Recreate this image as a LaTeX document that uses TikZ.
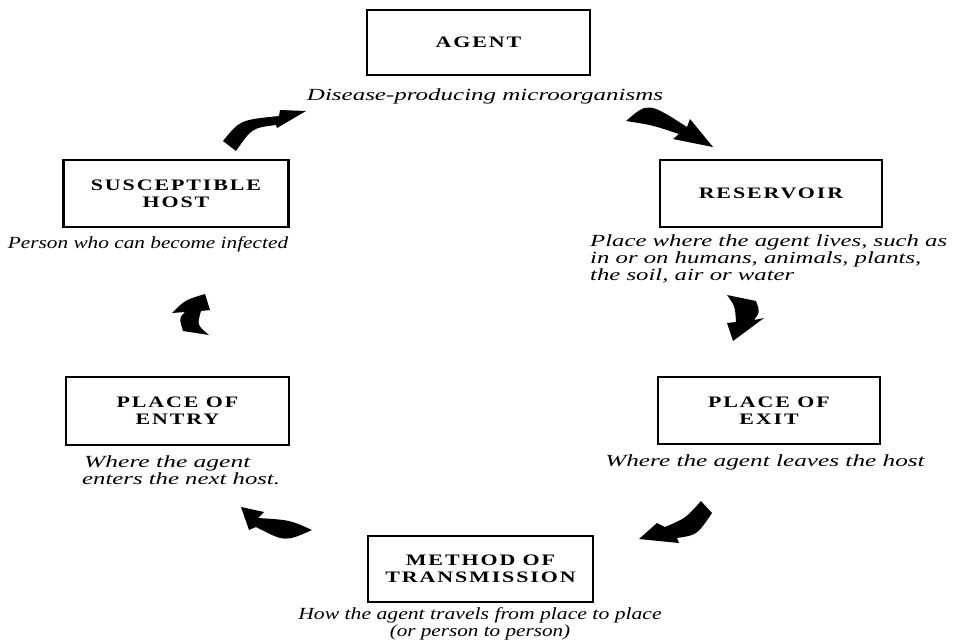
\documentclass[tikz,border=0pt]{standalone}
\usepackage{fontspec}
\setmainfont{Liberation Serif}
\newfontfamily\labfont[FakeStretch=1.37,LetterSpace=12]{Liberation Serif}
\newfontfamily\descfont[FakeStretch=1.5]{Liberation Serif}
\newcommand{\hsc}[2]{\scalebox{#1}[1]{#2}}
\begin{document}
\begin{tikzpicture}[x=1pt,y=-1pt,
  stagebox/.style={draw=black, line width=2.8pt, inner sep=0pt, align=center,
    font=\labfont\bfseries\fontsize{16}{17}\selectfont},
  desc/.style={inner sep=0pt, font=\descfont\itshape\fontsize{17}{17}\selectfont},
  blockarrow/.style={fill=black}]
\useasboundingbox (0,0) rectangle (954,641);
% boxes
\node[stagebox, minimum width=223pt, minimum height=65pt] (agent) at (478.5,42.5) {AGENT};
\node[stagebox, minimum width=222pt, minimum height=67pt] (reservoir) at (771,193.5) {RESERVOIR};
\node[stagebox, minimum width=225pt, minimum height=67pt] (host) at (176,193.5) {SUSCEPTIBLE\\HOST};
\node[stagebox, minimum width=223pt, minimum height=68pt] (entry) at (177.5,411) {PLACE OF\\ENTRY};
\node[stagebox, minimum width=222pt, minimum height=67pt] (exit) at (769,410.5) {PLACE OF\\EXIT};
\node[stagebox, minimum width=225pt, minimum height=66pt] (method) at (480.5,569) {METHOD OF\\TRANSMISSION};
% descriptions
\node[desc, anchor=base] (agentd) at (485,100) {\hsc{0.98}{Disease-producing microorganisms}};
\node[desc, anchor=north west, align=left] (resd) at (590,234) {\hsc{0.97}{Place where the agent lives, such as}\\\hsc{0.97}{in or on humans, animals, plants,}\\\hsc{0.97}{the soil, air or water}};
\node[desc, anchor=base] (hostd) at (148,248) {\hsc{0.835}{Person who can become infected}};
\node[desc, anchor=north west, align=left] (entryd) at (82,455) {\hspace{2pt}Where the agent\\\hsc{0.97}{enters the next host.}};
\node[desc, anchor=base] (exitd) at (765,466) {\hsc{0.99}{Where the agent leaves the host}};
\node[desc, anchor=north, align=center] (methodd) at (480,607) {\hsc{0.85}{How the agent travels from place to place}\\\hsc{0.83}{(or person to person)}};
% arrows
% host -> agent
\fill[blockarrow] (223,141) .. controls (240,120) .. (279,116) -- (280,110) -- (306,111)
  -- (277,128) -- (276,125) .. controls (252,128) .. (236,151) -- cycle;
% agent -> reservoir
\fill[blockarrow] (626,121) .. controls (648,102) .. (687,127) -- (690,119) -- (713,147)
  -- (673,139) -- (679,134) .. controls (652,125) .. (626,121) -- cycle;
% reservoir -> exit
\fill[blockarrow] (727,295) -- (756,301) .. controls (760,312) .. (754,320) -- (764,318)
  -- (733,341) -- (727,323) -- (736,322) .. controls (735,306) .. (727,295) -- cycle;
% exit -> method
\fill[blockarrow] (701,501) -- (712,513) .. controls (697,535) .. (677,538) -- (679,543)
  -- (639,539) -- (657,523) -- (665,527) .. controls (686,518) .. (701,501) -- cycle;
% method -> entry
\fill[blockarrow] (241,507) -- (264,512) -- (258,518) .. controls (290,520) .. (312,530)
  .. controls (285,542) .. (256,527) -- (249,530) -- cycle;
% entry -> host
\fill[blockarrow] (205,294) -- (210,310) -- (201,311) .. controls (197,325) .. (209,335)
  -- (183,331) .. controls (179,318) .. (185,312) -- (172,313) .. controls (185,300) .. (205,294) -- cycle;
\end{tikzpicture}
\end{document}
